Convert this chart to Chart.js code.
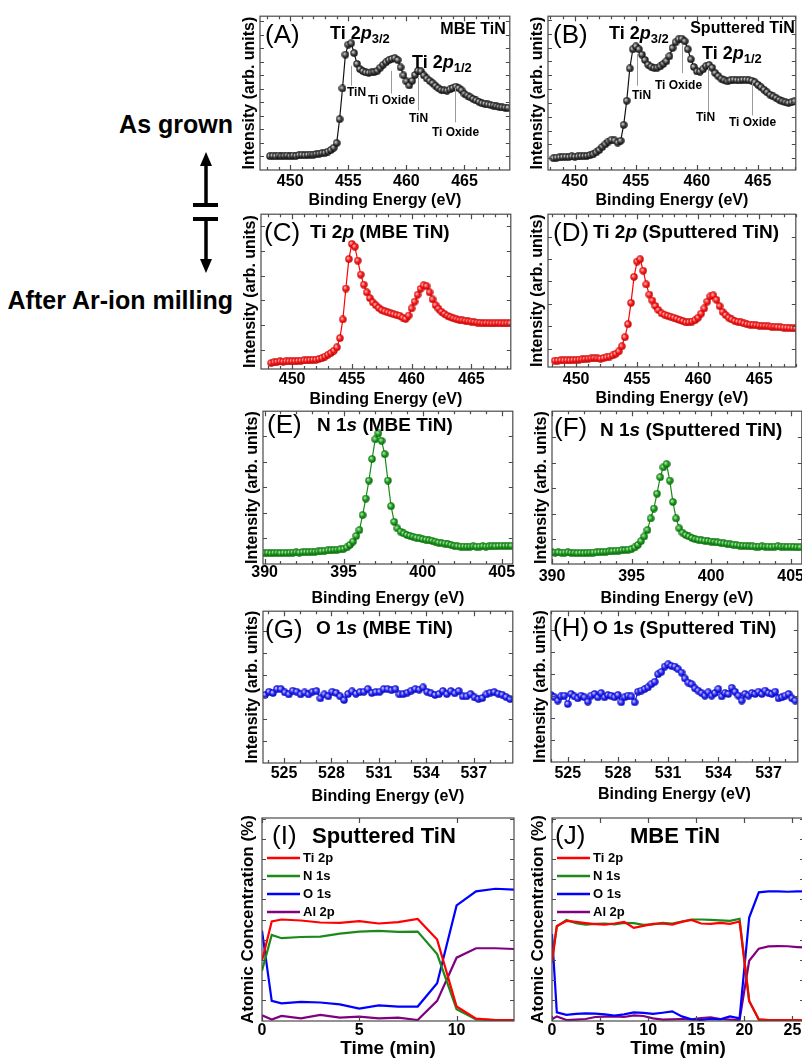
<!DOCTYPE html>
<html>
<head>
<meta charset="utf-8">
<title>XPS of MBE and sputtered TiN</title>
<script src="https://cdn.jsdelivr.net/npm/chart.js@4.4.1/dist/chart.umd.min.js"></script>
<style>
  html, body { margin: 0; padding: 0; background: #fff; }
  body { position: relative; width: 802px; height: 1058px; overflow: hidden; font-family: 'Liberation Sans', Arial, sans-serif; }
  canvas { position: absolute; }
  .side { position: absolute; right: 569px; font-weight: bold; font-size: 25px; line-height: 1; white-space: nowrap; color: #000; }
</style>
</head>
<body>
<div class="side" style="top:112px">As grown</div>
<div class="side" style="top:288px">After Ar-ion milling</div>
<svg style="position:absolute;left:0;top:0" width="240" height="300">
  <g fill="#000" stroke="#000">
    <line x1="206" y1="163" x2="206" y2="205" stroke-width="3.5"/>
    <polygon points="206,152 200,166 212,166" stroke="none"/>
    <rect x="193" y="203" width="25" height="4" stroke="none"/>
    <rect x="193" y="217" width="25" height="4" stroke="none"/>
    <line x1="206" y1="221" x2="206" y2="262" stroke-width="3.5"/>
    <polygon points="206,273 200,259 212,259" stroke="none"/>
  </g>
</svg>
<script>
const FAM = "'Liberation Sans', Arial, sans-serif";

// ---- spectra (intensity in % of panel height) ----
const tiStart = 448.25, tiStep = 0.25;
const tiMbeGrown = [9.0,9.2,9.0,9.4,9.0,9.2,9.4,9.0,9.4,9.2,9.6,9.8,9.6,9.8,10.0,10.0,
  10.4,10.6,11.0,11.2,12.0,13.0,14.5,17.5,33,53,75,81.5,82.4,76,69,65.6,
  64.3,63.4,63.2,63.4,63.8,64.5,66.5,68.4,70,71.4,72.2,72.7,71.5,66.7,61.5,57.6,
  55.0,58.0,61.8,64.5,64.2,61.5,59.5,58.0,56.5,54.8,53.2,52.0,51.7,51.6,52.4,53.3,
  54.2,53.2,51.8,49.5,48.4,47.3,46.2,45.2,44.3,43.4,43.0,42.6,42.2,41.9,41.4,40.9,
  40.7,40.5,40.4];
const tiSputGrown = [7.6,8.0,8.2,8.4,8.6,8.4,8.8,8.6,8.8,9.0,9.0,9.2,9.6,10.2,11.5,13.0,
  15.0,16.7,18.5,19.6,19.2,17.8,19.0,29.3,45,66,78.5,80.4,78.5,75,71.5,68.5,
  67.2,66.3,66.5,67.4,69.0,70.7,74,79.3,83,85,85.4,83.7,78.5,72,67,64.1,
  64.0,65.5,67.5,68.2,66.5,63.0,61.0,59.3,58.3,57.6,58.2,58.7,58.4,58.3,58.6,58.7,
  58.4,58.0,57.0,55.4,53.8,52.2,50.5,48.9,47.8,46.7,45.6,44.6,44.0,43.5,44.0,44.6];
const tiMbeMilled = [3.8,4.3,4.6,4.9,4.7,4.9,4.9,5.0,5.0,5.2,5.3,5.5,5.5,5.7,5.9,6.0,
  6.5,7.0,8.0,9.2,10.3,11.8,14.0,19.9,32,52,71,80.8,79.0,70,61,54.5,
  49.5,45.8,43.0,41.2,39.5,38.0,37.2,36.5,35.9,35.3,34.8,34.4,33.2,32.3,34.5,39.1,
  43.5,48.0,51.8,54.0,53.5,49.5,45.0,41.2,39.0,37.0,35.6,34.4,33.5,32.7,32.1,31.6,
  31.4,31.1,30.8,30.6,30.3,30.0,29.8,29.5,29.6,29.5,29.4,29.5,29.6,29.5,29.4,29.5,
  29.5];
const tiSputMilled = [4.1,4.2,4.3,4.3,4.4,4.3,4.5,4.6,4.8,5.0,5.2,5.4,5.6,5.8,5.6,5.4,
  5.8,6.3,6.8,7.6,8.6,10.2,13.5,19.5,28,42,59,69,70.5,63,54,47.4,
  43.5,40.0,37.2,35.1,34.2,33.5,32.9,32.3,31.5,30.7,30.0,29.2,29.3,29.7,30.6,32.3,
  35.0,38.3,42.8,46.2,46.8,44.0,39.8,36.1,34.0,32.3,31.1,30.1,29.6,29.2,28.5,27.9,
  27.7,27.5,27.3,27.1,26.9,26.8,26.6,26.4,26.3,26.1,26.0,25.8,25.7,25.5,25.4,25.3];

const nStart = 390.0, nStep = 0.2;
const nMbe = [7.1,7.3,7.0,7.2,7.3,7.1,7.3,7.2,7.4,7.5,
  7.6,7.5,7.7,7.8,7.8,8.0,8.0,8.2,8.4,8.6,
  8.9,9.0,9.2,9.4,9.6,9.9,10.8,12.5,14.7,18.4,
  22.2,32.0,42.8,54.6,68.7,81.6,85.5,80.6,71.9,54.6,
  37.8,27.6,23.3,21.2,20.0,19.0,18.4,17.8,17.3,16.8,
  16.2,15.9,15.5,15.2,14.6,14.0,13.7,13.4,13.0,12.4,
  11.9,11.6,11.4,11.4,11.3,11.4,11.5,11.3,11.4,11.6,
  11.4,11.5,11.7,11.6,11.8,11.9,11.8,11.9,11.9];
const nSput = [7.6,7.5,7.6,7.4,7.5,7.6,7.3,7.2,7.1,7.2,
  7.1,7.3,7.4,7.5,7.6,7.8,7.9,8.0,8.2,8.4,
  8.6,8.8,9.0,9.2,9.4,9.7,10.8,12.5,15.0,18.0,
  22.2,29.8,36.3,46.0,56.8,63.3,65.4,54.6,40.6,29.8,
  23.3,20.5,19.0,18.0,17.0,16.2,15.9,15.5,15.2,15.0,
  14.7,14.4,14.1,13.8,13.5,13.2,12.9,12.6,12.4,12.1,
  11.9,11.8,11.6,11.5,11.4,11.4,11.5,11.3,11.4,11.2,
  11.4,11.6,11.3,11.4,11.2,11.4,11.2,11.0,11.0];

const oMbeStart = 523.8, oMbeStep = 0.25;
const oMbe = [44.8,46.9,46.1,48.7,48.7,46.5,45.2,47.6,46.9,45.2,
  46.5,45.2,46.9,47.4,42.6,45.2,43.9,46.9,46.1,43.9,
  41.5,45.4,47.2,45.6,46.7,46.9,48.7,46.1,46.7,46.9,
  48.7,48.7,48.0,48.7,45.2,45.4,46.3,47.6,48.7,48.3,
  49.8,46.9,45.9,44.8,45.4,47.4,45.4,47.4,45.9,47.4,
  43.9,43.9,45.4,43.2,42.1,42.8,45.2,46.3,46.7,45.6,
  45.0,43.4,42.1];
const oSputStart = 524.0, oSputStep = 0.2;
const oSput = [44.4,42.9,40.7,43.5,44.0,38.5,45.1,43.5,42.2,44.0,
  42.9,40.0,44.0,45.1,42.9,45.7,42.9,44.4,44.0,42.9,
  44.4,39.6,42.9,44.0,43.5,39.6,46.6,47.3,48.4,49.5,
  51.6,53.2,58.2,59.8,63.3,64.8,63.7,63.3,61.5,59.3,
  55.4,52.7,51.6,48.8,47.3,45.7,44.0,46.2,44.0,45.7,
  48.4,43.5,45.7,45.1,49.2,46.6,44.0,40.7,45.1,44.0,
  45.7,45.1,46.6,45.1,47.3,45.7,45.1,46.6,42.2,42.9,
  44.0,45.1,42.2,40.7];

// ---- depth profiles (atomic %) ----
const sputTime = [0,0.5,1,2,3,4,5,6,7,8,9,10,11,12,13];
const sputTi = [29.5,49,50,49.5,48.5,48.3,49.2,48.0,48.7,50.3,40,6.7,0.7,0,0];
const sputN  = [24.5,42.3,40.7,41.3,41.5,43.0,44.0,44.3,43.8,44.0,32.8,5.3,0.3,0,0];
const sputO  = [44.5,9.5,8.3,9.0,8.7,7.8,5.7,7.3,6.7,6.7,18.3,57.0,64.0,65.3,64.8];
const sputAl = [2.3,0.2,2.0,0.8,2.5,1.2,1.7,0.8,1.2,0.0,9.5,31.0,35.7,35.7,35.3];

const mbeTime = [0,0.5,1.5,2.5,3.5,4.5,5.5,6.5,7.5,8.5,9.5,10.5,11.5,12.5,13.5,
  14.5,15.5,16.5,17.5,18.5,19.5,20.5,21.5,22.5,23.5,24.5,25.5,26.5];
const mbeTi = [28.6,46.8,49.3,48.8,48.2,47.7,47.5,48.0,48.8,45.8,46.8,47.8,48.0,47.5,48.8,
  49.8,48.0,47.8,48.3,47.8,49.0,9.5,0.3,0,0,0,0,0];
const mbeN  = [30,46.5,49.8,48.2,47.5,47.8,48.0,47.6,48.3,48.2,47.3,47.6,48.3,48.0,49.0,
  50.0,50.0,49.8,49.6,49.3,50.3,9.5,0.2,0,0,0,0,0];
const mbeO  = [42.8,3.8,2.6,3.0,3.3,3.2,2.8,2.2,2.8,3.8,3.5,3.0,3.6,4.3,1.8,
  0.3,0.0,0.6,0.3,1.8,0.8,51,63.5,64,64,63.8,64,64];
const mbeAl = [0.3,1.8,0.0,0.2,0.5,1.5,1.7,1.8,1.5,2.3,2.0,0.8,0.2,0.3,0.5,
  0.3,1.0,1.3,0.5,0.2,0.0,29.5,35.5,36.6,36.8,36.7,36.3,36.0];

const profileLabels = ['Ti 2p', 'N 1s', 'O 1s', 'Al 2p'];

// ---- tick labels ----
const tiTicks = [450, 455, 460, 465];
const nTicks = [390, 395, 400, 405];
const oTicks = [525, 528, 531, 534, 537];
const sputTimeTicks = [0, 5, 10];
const mbeTimeTicks = [0, 5, 10, 15, 20, 25];
const concTicks = [10, 20, 30, 40, 50, 60, 70, 80, 90, 100];

// ---- helpers ----
function series(start, step, vals) {
  return vals.map((v, i) => ({ x: +(start + i * step).toFixed(2), y: v }));
}
function pairs(xs, ys) { return xs.map((x, i) => ({ x, y: ys[i] })); }
function ladder(first, step) {
  const out = [];
  for (let i = 0; first + i * step < 99.5; i++) out.push(+(first + i * step).toFixed(2));
  return out;
}
function ball(light, mid, dark) {
  const c = document.createElement('canvas');
  c.width = 8; c.height = 8;
  const g = c.getContext('2d');
  const grd = g.createRadialGradient(2.8, 2.8, 0.2, 4, 4, 4);
  grd.addColorStop(0, light); grd.addColorStop(0.5, mid); grd.addColorStop(1, dark);
  g.fillStyle = grd;
  g.beginPath(); g.arc(4, 4, 3.7, 0, Math.PI * 2); g.fill();
  return c;
}
const b = (t, s) => ({ t, s });
const it = (t, s) => ({ t, s, i: true });
const sub = (t, s) => ({ t, s, dy: 5 });
const nm = (t, s) => ({ t, s, n: true });
function runFont(r) { return (r.i ? 'italic ' : '') + (r.n ? 'normal ' : 'bold ') + r.s + 'px ' + FAM; }
function drawRuns(ctx, runs, x, y, right) {
  let total = 0;
  runs.forEach(r => { ctx.font = runFont(r); total += ctx.measureText(r.t).width; });
  let cx = right ? x - total : x;
  ctx.textAlign = 'left'; ctx.textBaseline = 'middle'; ctx.fillStyle = '#000';
  runs.forEach(r => { ctx.font = runFont(r); ctx.fillText(r.t, cx, y + (r.dy || 0)); cx += ctx.measureText(r.t).width; });
}

const deco = {
  id: 'deco',
  afterDatasetsDraw(chart, args, o) {
    const { ctx, chartArea: a, scales: { x, y } } = chart;
    ctx.save();
    (o.peaks || []).forEach(p => {
      const px = Math.round(x.getPixelForValue(p.e)) + 0.5;
      ctx.strokeStyle = '#9a9a9a'; ctx.lineWidth = 1;
      ctx.beginPath();
      ctx.moveTo(px, y.getPixelForValue(p.top)); ctx.lineTo(px, y.getPixelForValue(p.bottom));
      ctx.stroke();
      ctx.font = 'bold 12px ' + FAM; ctx.fillStyle = '#000';
      ctx.textAlign = 'center'; ctx.textBaseline = 'middle';
      ctx.fillText(p.label, px + (p.dx || 0), y.getPixelForValue(p.at));
    });
    ctx.strokeStyle = '#4a4a4a'; ctx.lineWidth = 1.2;
    ctx.strokeRect(a.left, a.top, a.right - a.left, a.bottom - a.top);
    ctx.beginPath();
    y.ticks.forEach(t => {
      const py = Math.round(y.getPixelForValue(t.value)) + 0.5;
      ctx.moveTo(a.left, py); ctx.lineTo(a.left + 4, py);
      ctx.moveTo(a.right, py); ctx.lineTo(a.right - 4, py);
    });
    x.ticks.forEach(t => {
      const px = Math.round(x.getPixelForValue(t.value)) + 0.5;
      ctx.moveTo(px, a.bottom); ctx.lineTo(px, a.bottom - 5);
      ctx.moveTo(px, a.top); ctx.lineTo(px, a.top + 5);
    });
    if (o.minor) {
      const k0 = Math.ceil(x.min / o.minor), k1 = Math.floor(x.max / o.minor);
      for (let k = k0; k <= k1; k++) {
        const px = Math.round(x.getPixelForValue(k * o.minor)) + 0.5;
        ctx.moveTo(px, a.bottom); ctx.lineTo(px, a.bottom - 3);
        ctx.moveTo(px, a.top); ctx.lineTo(px, a.top + 3);
      }
    }
    ctx.stroke();
    (o.texts || []).forEach(tx => drawRuns(ctx, tx.runs, tx.right ? a.right - tx.x : a.left + tx.x, a.top + tx.y, tx.right));
    if (o.legend) {
      const L = o.legend;
      chart.data.datasets.forEach((d, i) => {
        const ly = a.top + L.y + i * L.gap;
        ctx.strokeStyle = d.borderColor; ctx.lineWidth = 2.5;
        ctx.beginPath(); ctx.moveTo(a.left + L.x, ly); ctx.lineTo(a.left + L.x + L.len, ly); ctx.stroke();
        ctx.font = 'bold ' + L.size + 'px ' + FAM; ctx.fillStyle = '#000';
        ctx.textAlign = 'left'; ctx.textBaseline = 'middle';
        ctx.fillText(d.label, a.left + L.x + L.len + 3, ly);
      });
    }
    ctx.restore();
  }
};

function makePanel(p) {
  const [L, T, R, B] = p.box;
  const yW = p.yW, xH = Math.round(p.dT + p.xFont * 0.6);
  const left = L - yW, top = T - 4;
  const cv = document.createElement('canvas');
  cv.width = R + 4 - left; cv.height = B + xH - top;
  cv.style.left = left + 'px'; cv.style.top = top + 'px';
  document.body.appendChild(cv);
  const tickFont = { family: FAM, size: 16, weight: 'bold' };
  return new Chart(cv, {
    type: 'scatter',
    data: { datasets: p.datasets },
    options: {
      responsive: false, animation: false, devicePixelRatio: 1, events: [],
      layout: { padding: { top: 4, right: 4, left: 0, bottom: 0 } },
      plugins: { legend: { display: false }, tooltip: { enabled: false }, deco: p.deco },
      scales: {
        x: {
          type: 'linear', min: p.x[0], max: p.x[1],
          grid: { display: false, drawTicks: false }, border: { display: false },
          ticks: { color: '#000', font: tickFont, padding: p.dL - 10.5, maxRotation: 0, autoSkip: false, callback: v => String(v) },
          afterBuildTicks: s => { s.ticks = p.xTicks.map(v => ({ value: v })); },
          afterFit: s => { s.height = xH; },
          title: { display: true, text: p.xTitle, color: '#000', padding: 0, font: { family: FAM, size: p.xFont, weight: 'bold' } }
        },
        y: {
          type: 'linear', min: p.y[0], max: p.y[1],
          grid: { display: false, drawTicks: false }, border: { display: false },
          ticks: { display: false },
          afterBuildTicks: s => { s.ticks = p.yTicks.map(v => ({ value: v })); },
          afterFit: s => { s.width = yW; },
          title: { display: true, text: p.yTitle, color: '#000', padding: 0, font: { family: FAM, size: p.yFont, weight: 'bold' } }
        }
      }
    },
    plugins: [deco]
  });
}

function spectrumSet(data, line, img) {
  return { data, showLine: true, borderColor: line, borderWidth: 1.2, pointStyle: img, pointRadius: 3.5, tension: 0 };
}
function profileSets(t, ti, n, o, al) {
  const cols = ['#ff0000', '#1b8a1b', '#0000ff', '#800080'];
  return [ti, n, o, al].map((v, i) => ({
    label: profileLabels[i], data: pairs(t, v), showLine: true,
    borderColor: cols[i], borderWidth: 2.2, pointRadius: 0, tension: 0
  }));
}

const blackBall = ball('#e0e0e0', '#444', '#000');
const redBall = ball('#ffd0d0', '#ff1a1a', '#b00000');
const greenBall = ball('#c8f0c8', '#1e9e1e', '#005a00');
const blueBall = ball('#d8d8ff', '#2a2aff', '#0000a0');

const spec = { xTitle: 'Binding Energy (eV)', xFont: 16, yTitle: 'Intensity (arb. units)', yFont: 16, yW: 20, y: [0, 100] };
const prof = { xTitle: 'Time (min)', xFont: 19, yTitle: 'Atomic Concentration (%)', yFont: 17, yW: 24, y: [-0.5, 100.5] };
const ti2p = (tag, s) => [b('Ti 2', s), it('p', s), sub(tag, 13)];

const panels = [
  Object.assign({}, spec, {
    box: [260, 15, 511, 170], x: [447.4, 468.9], xTicks: tiTicks, yTicks: ladder(8.8, 8.8), dL: 12, dT: 30,
    datasets: [spectrumSet(series(tiStart, tiStep, tiMbeGrown), '#111', blackBall)],
    deco: { minor: 1,
      texts: [{ x: 5, y: 20, runs: [nm('(A)', 26)] }, { x: 70, y: 18, runs: ti2p('3/2', 18) },
              { x: 4, y: 13, right: true, runs: [b('MBE TiN', 16)] }, { x: 152, y: 47, runs: ti2p('1/2', 18) }],
      peaks: [{ e: 455.2, top: 67.7, bottom: 54.8, at: 50.3, label: 'TiN', dx: 5 },
              { e: 458.7, top: 64.5, bottom: 49.7, at: 45.2, label: 'Ti Oxide' },
              { e: 461.0, top: 60, bottom: 38.7, at: 33.5, label: 'TiN' },
              { e: 464.2, top: 53.5, bottom: 31, at: 24.5, label: 'Ti Oxide' }] }
  }),
  Object.assign({}, spec, {
    box: [548, 15, 797, 170], x: [447.8, 468.1], xTicks: tiTicks, yTicks: ladder(7.6, 9.0), dL: 12, dT: 30,
    datasets: [spectrumSet(series(tiStart, tiStep, tiSputGrown), '#111', blackBall)],
    deco: { minor: 1,
      texts: [{ x: 5, y: 20, runs: [nm('(B)', 26)] }, { x: 61, y: 18, runs: ti2p('3/2', 18) },
              { x: 1, y: 12, right: true, runs: [b('Sputtered TiN', 16)] }, { x: 154, y: 38, runs: ti2p('1/2', 18) }],
      peaks: [{ e: 455.1, top: 75.5, bottom: 54.8, at: 48.4, label: 'TiN', dx: 4 },
              { e: 458.8, top: 82, bottom: 63, at: 54.8, label: 'Ti Oxide', dx: -4 },
              { e: 460.9, top: 66.5, bottom: 37.5, at: 34.2, label: 'TiN', dx: -3 },
              { e: 464.5, top: 56.8, bottom: 35.5, at: 31, label: 'Ti Oxide' }] }
  }),
  Object.assign({}, spec, {
    box: [261, 213, 512, 369], x: [447.4, 468.3], xTicks: tiTicks, yTicks: ladder(12.4, 16), dL: 11, dT: 30,
    datasets: [spectrumSet(series(tiStart, tiStep, tiMbeMilled), '#ff0000', redBall)],
    deco: { minor: 1,
      texts: [{ x: 3, y: 20, runs: [nm('(C)', 26)] },
              { x: 49, y: 19, runs: [b('Ti 2', 19), it('p', 19), b(' (MBE TiN)', 19)] }] }
  }),
  Object.assign({}, spec, {
    box: [548, 213, 797, 367], x: [447.7, 468.0], xTicks: tiTicks, yTicks: ladder(11.9, 14.7), dL: 13, dT: 31,
    datasets: [spectrumSet(series(tiStart, tiStep, tiSputMilled), '#ff0000', redBall)],
    deco: { minor: 1,
      texts: [{ x: 5, y: 20, runs: [nm('(D)', 26)] },
              { x: 45, y: 19, runs: [b('Ti 2', 19), it('p', 19), b(' (Sputtered TiN)', 19)] }] }
  }),
  Object.assign({}, spec, {
    box: [263, 410, 514, 564], x: [389.9, 405.7], xTicks: nTicks, yTicks: ladder(16.8, 16.7), dL: 9, dT: 34,
    datasets: [spectrumSet(series(nStart, nStep, nMbe), '#1a8a1a', greenBall)],
    deco: { minor: 1,
      texts: [{ x: 4, y: 15, runs: [nm('(E)', 26)] },
              { x: 54, y: 15, runs: [b('N 1', 19), it('s', 19), b(' (MBE TiN)', 19)] }] }
  }),
  Object.assign({}, spec, {
    box: [552, 410, 803, 564], x: [390.0, 405.7], xTicks: nTicks, yTicks: ladder(16.2, 16.7), dL: 13, dT: 34,
    datasets: [spectrumSet(series(nStart, nStep, nSput), '#1a8a1a', greenBall)],
    deco: { minor: 1,
      texts: [{ x: 2, y: 18, runs: [nm('(F)', 26)] },
              { x: 48, y: 20, runs: [b('N 1', 19), it('s', 19), b(' (Sputtered TiN)', 19)] }] }
  }),
  Object.assign({}, spec, {
    box: [263, 610, 514, 763], x: [523.67, 539.47], xTicks: oTicks, yTicks: ladder(14.2, 14.5), dL: 11, dT: 33,
    datasets: [spectrumSet(series(oMbeStart, oMbeStep, oMbe), '#2020ff', blueBall)],
    deco: { minor: 1,
      texts: [{ x: 2, y: 20, runs: [nm('(G)', 26)] },
              { x: 53, y: 18, runs: [b('O 1', 19), it('s', 19), b(' (MBE TiN)', 19)] }] }
  }),
  Object.assign({}, spec, {
    box: [551, 610, 799, 762], x: [524.0, 538.75], xTicks: oTicks, yTicks: ladder(14.3, 14.6), dL: 12, dT: 32,
    datasets: [spectrumSet(series(oSputStart, oSputStep, oSput), '#2020ff', blueBall)],
    deco: { minor: 1,
      texts: [{ x: 2, y: 18, runs: [nm('(H)', 26)] },
              { x: 42, y: 18, runs: [b('O 1', 19), it('s', 19), b(' (Sputtered TiN)', 19)] }] }
  }),
  Object.assign({}, prof, {
    box: [262, 818, 514, 1021], x: [0, 12.95], xTicks: sputTimeTicks, yTicks: concTicks, dL: 10, dT: 28,
    datasets: profileSets(sputTime, sputTi, sputN, sputO, sputAl),
    deco: { texts: [{ x: 10, y: 19, runs: [nm('(I)', 26)] }, { x: 50, y: 19, runs: [b('Sputtered TiN', 22)] }],
      legend: { x: 5, y: 40, gap: 18, len: 33, size: 13 } }
  }),
  Object.assign({}, prof, {
    box: [552, 818, 804, 1021], x: [0, 26.2], xTicks: mbeTimeTicks, yTicks: concTicks, dL: 10, dT: 28,
    datasets: profileSets(mbeTime, mbeTi, mbeN, mbeO, mbeAl),
    deco: { texts: [{ x: 3, y: 19, runs: [nm('(J)', 26)] }, { x: 78, y: 19, runs: [b('MBE TiN', 22)] }],
      legend: { x: 5, y: 40, gap: 18, len: 33, size: 13 } }
  })
];

panels.forEach(makePanel);
</script>
</body>
</html>
